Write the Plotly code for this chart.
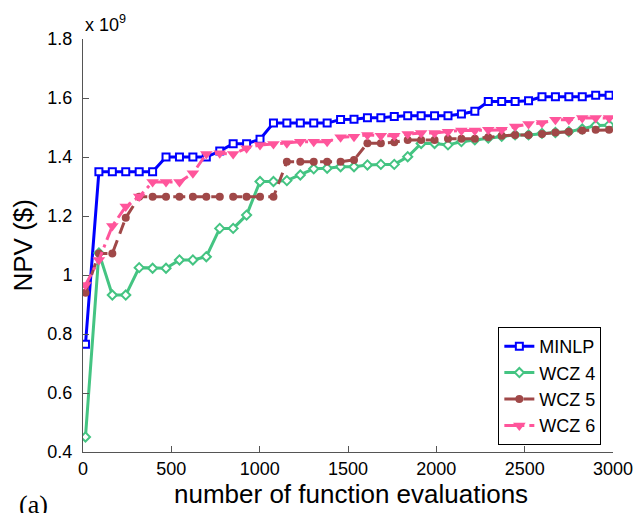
import plotly.graph_objects as go

# Number of function evaluations at each recorded iterate
evals = [14, 90, 166, 242, 318, 394, 470, 546, 622, 698,
         774, 850, 926, 1002, 1078, 1154, 1230, 1306, 1382, 1458,
         1534, 1610, 1686, 1762, 1838, 1914, 1990, 2066, 2142, 2218,
         2294, 2370, 2446, 2522, 2598, 2674, 2750, 2826, 2902, 2978]

# Best NPV found so far (units of 1e9 $)
npv_minlp = [0.765, 1.35, 1.35, 1.35, 1.35, 1.35, 1.40, 1.40, 1.40, 1.40,
             1.42, 1.445, 1.445, 1.46, 1.515, 1.515, 1.515, 1.515, 1.515, 1.527,
             1.528, 1.533, 1.533, 1.537, 1.540, 1.540, 1.540, 1.540, 1.546, 1.555,
             1.588, 1.588, 1.588, 1.591, 1.604, 1.604, 1.604, 1.604, 1.609, 1.609]
npv_wcz4 = [0.451, 1.075, 0.932, 0.932, 1.025, 1.023, 1.023, 1.051, 1.051, 1.062,
            1.158, 1.158, 1.203, 1.317, 1.317, 1.320, 1.339, 1.360, 1.362, 1.367,
            1.367, 1.373, 1.375, 1.375, 1.401, 1.446, 1.446, 1.441, 1.452, 1.458,
            1.464, 1.470, 1.475, 1.475, 1.480, 1.483, 1.486, 1.495, 1.507, 1.508]
npv_wcz5 = [0.94, 1.073, 1.073, 1.194, 1.265, 1.265, 1.265, 1.265, 1.265, 1.265,
            1.265, 1.265, 1.265, 1.265, 1.265, 1.384, 1.384, 1.384, 1.384, 1.384,
            1.39, 1.447, 1.447, 1.45, 1.458, 1.458, 1.458, 1.462, 1.462, 1.462,
            1.467, 1.472, 1.475, 1.475, 1.478, 1.483, 1.486, 1.490, 1.492, 1.492]
npv_wcz6 = [0.966, 1.051, 1.166, 1.232, 1.266, 1.315, 1.315, 1.315, 1.345, 1.41,
            1.413, 1.41, 1.43, 1.441, 1.444, 1.447, 1.452, 1.452, 1.452, 1.467,
            1.469, 1.475, 1.472, 1.472, 1.478, 1.481, 1.481, 1.486, 1.490, 1.490,
            1.492, 1.492, 1.503, 1.512, 1.515, 1.526, 1.526, 1.532, 1.532, 1.532]

x_ticks = [0, 500, 1000, 1500, 2000, 2500, 3000]
y_ticks = [0.4, 0.6, 0.8, 1.0, 1.2, 1.4, 1.6, 1.8]
y_ticktext = ["0.4", "0.6", "0.8", "1", "1.2", "1.4", "1.6", "1.8"]

series = [
    ("MINLP", npv_minlp, "#0000FF", "solid",
     dict(symbol="square", size=7, color="white", line=dict(color="#0000FF", width=2))),
    ("WCZ 4", npv_wcz4, "#44C482", "solid",
     dict(symbol="diamond", size=7, color="white", line=dict(color="#44C482", width=2))),
    ("WCZ 5", npv_wcz5, "#A04848", "12px,7px",
     dict(symbol="circle", size=8, color="#A04848", line=dict(width=0))),
    ("WCZ 6", npv_wcz6, "#FF559B", "12px,5px,3px,5px",
     dict(symbol="triangle-down", size=11, color="#FF559B", line=dict(width=0))),
]

fig = go.Figure()
for name, vals, color, dash, marker in series:
    fig.add_trace(go.Scatter(
        x=evals, y=vals, name=name, mode="lines+markers",
        line=dict(color=color, width=3, dash=dash),
        marker=marker,
    ))

font_main = "Liberation Sans, Arial, Helvetica, sans-serif"
axis_color = "#555555"

fig.update_layout(
    width=635, height=513,
    margin=dict(l=83, r=22, t=39, b=61, autoexpand=False),
    paper_bgcolor="white", plot_bgcolor="white",
    font=dict(family=font_main, size=18, color="black"),
    showlegend=True,
    legend=dict(
        x=0.978, y=0.017, xanchor="right", yanchor="bottom",
        bgcolor="white", bordercolor="black", borderwidth=1,
        font=dict(size=18, color="black"),
        itemwidth=30, tracegroupgap=0,
    ),
    xaxis=dict(
        range=[0, 3000], tickvals=x_ticks, automargin=False,
        showgrid=False, zeroline=False, showline=True, linecolor=axis_color, linewidth=1,
        ticks="inside", ticklen=6, tickcolor=axis_color, mirror=False,
        tickfont=dict(size=18),
    ),
    yaxis=dict(
        range=[0.4, 1.8], tickvals=y_ticks, ticktext=y_ticktext, automargin=False,
        showgrid=False, zeroline=False, showline=True, linecolor=axis_color, linewidth=1,
        ticks="inside", ticklen=6, tickcolor=axis_color, mirror=False,
        tickfont=dict(size=18), ticklabelstandoff=6,
    ),
    annotations=[
        # axis titles
        dict(text="number of function evaluations", xref="paper", yref="paper",
             x=0.505, y=-0.102, xanchor="center", yanchor="middle", showarrow=False,
             font=dict(size=26, family=font_main)),
        dict(text="NPV ($)", xref="paper", yref="paper", textangle=-90,
             x=-0.115, y=0.5, xanchor="center", yanchor="middle", showarrow=False,
             font=dict(size=26, family=font_main)),
        # exponent of the y scale
        dict(text="x 10<sup>9</sup>", xref="paper", yref="paper", x=0, y=1,
             xanchor="left", yanchor="bottom", showarrow=False, yshift=2,
             font=dict(size=18, family=font_main)),
        # panel label
        dict(text="(a)", xref="paper", yref="paper", x=-0.125, y=-0.087,
             xanchor="left", yanchor="top", showarrow=False,
             font=dict(size=26, family="Liberation Serif, Times New Roman, serif")),
    ],
)

fig.write_html("out.html")
